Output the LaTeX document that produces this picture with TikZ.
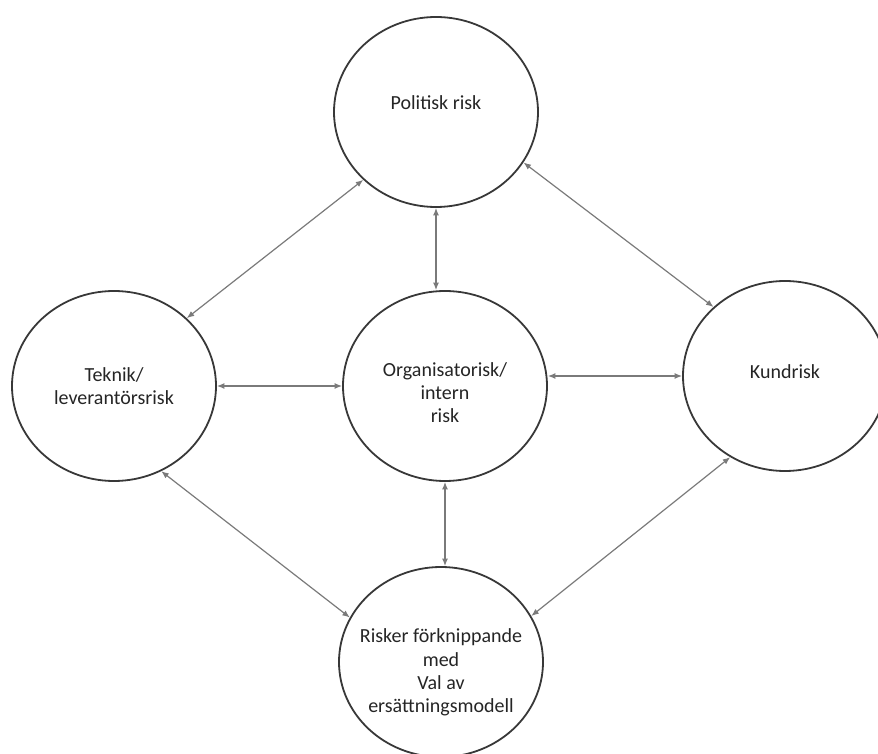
\documentclass[tikz,border=0pt]{standalone}
\usepackage{fontspec}
\setmainfont{Carlito}
\usepackage{tikz}
\usetikzlibrary{arrows.meta,shapes.geometric}
\definecolor{RiskRing}{HTML}{383838}
\definecolor{RiskLink}{HTML}{7A7A7A}
\definecolor{RiskText}{HTML}{252525}
\tikzset{
  riskring/.style={ellipse,draw=RiskRing,line width=1.8pt,minimum width=204pt,minimum height=190pt,
    inner sep=-30pt,align=center,text=RiskText,font=\fontsize{20}{23.3}\selectfont},
  risklink/.style={RiskLink,line width=1.2pt,{Latex[length=7.5pt,width=6pt]}-{Latex[length=7.5pt,width=6pt]}}
}

\begin{document}
\begin{tikzpicture}[x=1pt,y=1pt]
  \useasboundingbox (0,0) rectangle (878,753);
  \node[riskring] (pol) at (436,641) {Politisk risk\\[-4pt]};
  \node[riskring] (tek) at (114,367) {Teknik/\\leverantörsrisk};
  \node[riskring] (org) at (445,367) {\\[4pt]Organisatorisk/\\intern\\risk};
  \node[riskring] (kund) at (785,377) {Kundrisk\\[-14pt]};
  \node[riskring] (val) at (441,91) {\\[12pt]Risker förknippande\\med\\Val av\\ersättningsmodell};
  \draw[risklink] (pol.223) -- (tek.43);
  \draw[risklink] (pol.south) -- (pol.south |- org.north);
  \draw[risklink] (pol.330) -- (kund.136);
  \draw[risklink] (tek.east) -- (org.west);
  \draw[risklink] (kund.west -| org.east) -- (kund.west);
  \draw[risklink] (org.south) -- (org.south |- val.north);
  \draw[risklink] (tek.299) -- (val.154);
  \draw[risklink] (kund.236) -- (val.27);
\end{tikzpicture}
\end{document}
